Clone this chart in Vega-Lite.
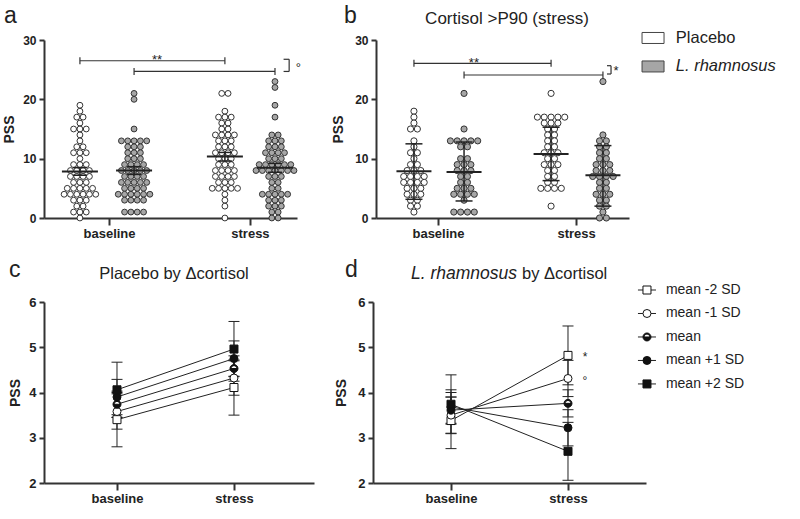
{
"$schema":"https://vega.github.io/schema/vega-lite/v6.json",
"background":"white",
"padding":{"left":2,"top":4,"right":2,"bottom":2},
"config":{
 "font":"Liberation Sans",
 "view":{"stroke":null},
 "axis":{"grid":false,"domainColor":"#333333","domainWidth":2,"tickColor":"#333333","tickWidth":2,"tickSize":5,"labelFont":"Liberation Sans","labelFontWeight":"bold","labelFontSize":12,"labelColor":"#222222","labelPadding":3,"titleFont":"Liberation Sans","titleFontWeight":"bold","titleFontSize":14,"titleColor":"#222222","titlePadding":6},
 "axisX":{"tickSize":7,"labelFontSize":13,"labelPadding":2},
 "text":{"font":"Liberation Sans","color":"#222222"}
},
"resolve":{"scale":{"fill":"independent","shape":"independent"}},
"datasets":{
"pssA":[
{"time":"baseline","group":"Placebo","pss":19},{"time":"baseline","group":"Placebo","pss":18},{"time":"baseline","group":"Placebo","pss":17},{"time":"baseline","group":"Placebo","pss":17},{"time":"baseline","group":"Placebo","pss":16},{"time":"baseline","group":"Placebo","pss":15},{"time":"baseline","group":"Placebo","pss":15},{"time":"baseline","group":"Placebo","pss":15},{"time":"baseline","group":"Placebo","pss":14},{"time":"baseline","group":"Placebo","pss":13},
{"time":"baseline","group":"Placebo","pss":12},{"time":"baseline","group":"Placebo","pss":12},{"time":"baseline","group":"Placebo","pss":11},{"time":"baseline","group":"Placebo","pss":11},{"time":"baseline","group":"Placebo","pss":11},{"time":"baseline","group":"Placebo","pss":10},{"time":"baseline","group":"Placebo","pss":9},{"time":"baseline","group":"Placebo","pss":9},{"time":"baseline","group":"Placebo","pss":9},{"time":"baseline","group":"Placebo","pss":8},
{"time":"baseline","group":"Placebo","pss":8},{"time":"baseline","group":"Placebo","pss":8},{"time":"baseline","group":"Placebo","pss":8},{"time":"baseline","group":"Placebo","pss":7},{"time":"baseline","group":"Placebo","pss":7},{"time":"baseline","group":"Placebo","pss":7},{"time":"baseline","group":"Placebo","pss":7},{"time":"baseline","group":"Placebo","pss":6},{"time":"baseline","group":"Placebo","pss":6},{"time":"baseline","group":"Placebo","pss":6},
{"time":"baseline","group":"Placebo","pss":5},{"time":"baseline","group":"Placebo","pss":5},{"time":"baseline","group":"Placebo","pss":5},{"time":"baseline","group":"Placebo","pss":5},{"time":"baseline","group":"Placebo","pss":5},{"time":"baseline","group":"Placebo","pss":4},{"time":"baseline","group":"Placebo","pss":4},{"time":"baseline","group":"Placebo","pss":4},{"time":"baseline","group":"Placebo","pss":4},{"time":"baseline","group":"Placebo","pss":4},
{"time":"baseline","group":"Placebo","pss":4},{"time":"baseline","group":"Placebo","pss":3},{"time":"baseline","group":"Placebo","pss":3},{"time":"baseline","group":"Placebo","pss":3},{"time":"baseline","group":"Placebo","pss":2},{"time":"baseline","group":"Placebo","pss":2},{"time":"baseline","group":"Placebo","pss":1},{"time":"baseline","group":"Placebo","pss":1},{"time":"baseline","group":"Placebo","pss":1},{"time":"baseline","group":"Placebo","pss":0},
{"time":"baseline","group":"L. rhamnosus","pss":21},{"time":"baseline","group":"L. rhamnosus","pss":20},{"time":"baseline","group":"L. rhamnosus","pss":15},{"time":"baseline","group":"L. rhamnosus","pss":13},{"time":"baseline","group":"L. rhamnosus","pss":13},{"time":"baseline","group":"L. rhamnosus","pss":13},{"time":"baseline","group":"L. rhamnosus","pss":13},{"time":"baseline","group":"L. rhamnosus","pss":13},{"time":"baseline","group":"L. rhamnosus","pss":12},{"time":"baseline","group":"L. rhamnosus","pss":12},
{"time":"baseline","group":"L. rhamnosus","pss":12},{"time":"baseline","group":"L. rhamnosus","pss":11},{"time":"baseline","group":"L. rhamnosus","pss":11},{"time":"baseline","group":"L. rhamnosus","pss":11},{"time":"baseline","group":"L. rhamnosus","pss":10},{"time":"baseline","group":"L. rhamnosus","pss":10},{"time":"baseline","group":"L. rhamnosus","pss":10},{"time":"baseline","group":"L. rhamnosus","pss":9},{"time":"baseline","group":"L. rhamnosus","pss":9},{"time":"baseline","group":"L. rhamnosus","pss":9},
{"time":"baseline","group":"L. rhamnosus","pss":9},{"time":"baseline","group":"L. rhamnosus","pss":8},{"time":"baseline","group":"L. rhamnosus","pss":8},{"time":"baseline","group":"L. rhamnosus","pss":8},{"time":"baseline","group":"L. rhamnosus","pss":8},{"time":"baseline","group":"L. rhamnosus","pss":8},{"time":"baseline","group":"L. rhamnosus","pss":7},{"time":"baseline","group":"L. rhamnosus","pss":7},{"time":"baseline","group":"L. rhamnosus","pss":7},{"time":"baseline","group":"L. rhamnosus","pss":7},
{"time":"baseline","group":"L. rhamnosus","pss":6},{"time":"baseline","group":"L. rhamnosus","pss":6},{"time":"baseline","group":"L. rhamnosus","pss":6},{"time":"baseline","group":"L. rhamnosus","pss":6},{"time":"baseline","group":"L. rhamnosus","pss":6},{"time":"baseline","group":"L. rhamnosus","pss":5},{"time":"baseline","group":"L. rhamnosus","pss":5},{"time":"baseline","group":"L. rhamnosus","pss":5},{"time":"baseline","group":"L. rhamnosus","pss":5},{"time":"baseline","group":"L. rhamnosus","pss":4},
{"time":"baseline","group":"L. rhamnosus","pss":4},{"time":"baseline","group":"L. rhamnosus","pss":4},{"time":"baseline","group":"L. rhamnosus","pss":4},{"time":"baseline","group":"L. rhamnosus","pss":4},{"time":"baseline","group":"L. rhamnosus","pss":4},{"time":"baseline","group":"L. rhamnosus","pss":3},{"time":"baseline","group":"L. rhamnosus","pss":3},{"time":"baseline","group":"L. rhamnosus","pss":3},{"time":"baseline","group":"L. rhamnosus","pss":3},{"time":"baseline","group":"L. rhamnosus","pss":1},
{"time":"baseline","group":"L. rhamnosus","pss":1},{"time":"baseline","group":"L. rhamnosus","pss":1},{"time":"baseline","group":"L. rhamnosus","pss":1},
{"time":"stress","group":"Placebo","pss":21},{"time":"stress","group":"Placebo","pss":21},{"time":"stress","group":"Placebo","pss":18},{"time":"stress","group":"Placebo","pss":17},{"time":"stress","group":"Placebo","pss":17},{"time":"stress","group":"Placebo","pss":17},{"time":"stress","group":"Placebo","pss":16},{"time":"stress","group":"Placebo","pss":16},{"time":"stress","group":"Placebo","pss":15},{"time":"stress","group":"Placebo","pss":15},
{"time":"stress","group":"Placebo","pss":14},{"time":"stress","group":"Placebo","pss":14},{"time":"stress","group":"Placebo","pss":14},{"time":"stress","group":"Placebo","pss":14},{"time":"stress","group":"Placebo","pss":13},{"time":"stress","group":"Placebo","pss":13},{"time":"stress","group":"Placebo","pss":13},{"time":"stress","group":"Placebo","pss":12},{"time":"stress","group":"Placebo","pss":12},{"time":"stress","group":"Placebo","pss":12},
{"time":"stress","group":"Placebo","pss":11},{"time":"stress","group":"Placebo","pss":11},{"time":"stress","group":"Placebo","pss":11},{"time":"stress","group":"Placebo","pss":11},{"time":"stress","group":"Placebo","pss":10},{"time":"stress","group":"Placebo","pss":10},{"time":"stress","group":"Placebo","pss":10},{"time":"stress","group":"Placebo","pss":9},{"time":"stress","group":"Placebo","pss":9},{"time":"stress","group":"Placebo","pss":9},
{"time":"stress","group":"Placebo","pss":8},{"time":"stress","group":"Placebo","pss":8},{"time":"stress","group":"Placebo","pss":8},{"time":"stress","group":"Placebo","pss":8},{"time":"stress","group":"Placebo","pss":7},{"time":"stress","group":"Placebo","pss":7},{"time":"stress","group":"Placebo","pss":7},{"time":"stress","group":"Placebo","pss":7},{"time":"stress","group":"Placebo","pss":6},{"time":"stress","group":"Placebo","pss":6},
{"time":"stress","group":"Placebo","pss":6},{"time":"stress","group":"Placebo","pss":5},{"time":"stress","group":"Placebo","pss":5},{"time":"stress","group":"Placebo","pss":5},{"time":"stress","group":"Placebo","pss":5},{"time":"stress","group":"Placebo","pss":5},{"time":"stress","group":"Placebo","pss":4},{"time":"stress","group":"Placebo","pss":3},{"time":"stress","group":"Placebo","pss":2},{"time":"stress","group":"Placebo","pss":0},
{"time":"stress","group":"L. rhamnosus","pss":23},{"time":"stress","group":"L. rhamnosus","pss":22},{"time":"stress","group":"L. rhamnosus","pss":19},{"time":"stress","group":"L. rhamnosus","pss":17},{"time":"stress","group":"L. rhamnosus","pss":14},{"time":"stress","group":"L. rhamnosus","pss":14},{"time":"stress","group":"L. rhamnosus","pss":13},{"time":"stress","group":"L. rhamnosus","pss":13},{"time":"stress","group":"L. rhamnosus","pss":13},{"time":"stress","group":"L. rhamnosus","pss":12},
{"time":"stress","group":"L. rhamnosus","pss":12},{"time":"stress","group":"L. rhamnosus","pss":12},{"time":"stress","group":"L. rhamnosus","pss":11},{"time":"stress","group":"L. rhamnosus","pss":11},{"time":"stress","group":"L. rhamnosus","pss":11},{"time":"stress","group":"L. rhamnosus","pss":11},{"time":"stress","group":"L. rhamnosus","pss":10},{"time":"stress","group":"L. rhamnosus","pss":10},{"time":"stress","group":"L. rhamnosus","pss":10},{"time":"stress","group":"L. rhamnosus","pss":9},
{"time":"stress","group":"L. rhamnosus","pss":9},{"time":"stress","group":"L. rhamnosus","pss":9},{"time":"stress","group":"L. rhamnosus","pss":9},{"time":"stress","group":"L. rhamnosus","pss":9},{"time":"stress","group":"L. rhamnosus","pss":9},{"time":"stress","group":"L. rhamnosus","pss":8},{"time":"stress","group":"L. rhamnosus","pss":8},{"time":"stress","group":"L. rhamnosus","pss":8},{"time":"stress","group":"L. rhamnosus","pss":8},{"time":"stress","group":"L. rhamnosus","pss":8},
{"time":"stress","group":"L. rhamnosus","pss":8},{"time":"stress","group":"L. rhamnosus","pss":8},{"time":"stress","group":"L. rhamnosus","pss":7},{"time":"stress","group":"L. rhamnosus","pss":7},{"time":"stress","group":"L. rhamnosus","pss":7},{"time":"stress","group":"L. rhamnosus","pss":6},{"time":"stress","group":"L. rhamnosus","pss":6},{"time":"stress","group":"L. rhamnosus","pss":5},{"time":"stress","group":"L. rhamnosus","pss":5},{"time":"stress","group":"L. rhamnosus","pss":4},
{"time":"stress","group":"L. rhamnosus","pss":4},{"time":"stress","group":"L. rhamnosus","pss":4},{"time":"stress","group":"L. rhamnosus","pss":4},{"time":"stress","group":"L. rhamnosus","pss":4},{"time":"stress","group":"L. rhamnosus","pss":3},{"time":"stress","group":"L. rhamnosus","pss":3},{"time":"stress","group":"L. rhamnosus","pss":3},{"time":"stress","group":"L. rhamnosus","pss":2},{"time":"stress","group":"L. rhamnosus","pss":2},{"time":"stress","group":"L. rhamnosus","pss":2},
{"time":"stress","group":"L. rhamnosus","pss":1},{"time":"stress","group":"L. rhamnosus","pss":1},{"time":"stress","group":"L. rhamnosus","pss":0},{"time":"stress","group":"L. rhamnosus","pss":0}
],
"pssB":[
{"time":"baseline","group":"Placebo","pss":18},{"time":"baseline","group":"Placebo","pss":17},{"time":"baseline","group":"Placebo","pss":16},{"time":"baseline","group":"Placebo","pss":15},{"time":"baseline","group":"Placebo","pss":15},{"time":"baseline","group":"Placebo","pss":13},{"time":"baseline","group":"Placebo","pss":12},{"time":"baseline","group":"Placebo","pss":11},{"time":"baseline","group":"Placebo","pss":11},{"time":"baseline","group":"Placebo","pss":10},
{"time":"baseline","group":"Placebo","pss":9},{"time":"baseline","group":"Placebo","pss":9},{"time":"baseline","group":"Placebo","pss":8},{"time":"baseline","group":"Placebo","pss":8},{"time":"baseline","group":"Placebo","pss":8},{"time":"baseline","group":"Placebo","pss":7},{"time":"baseline","group":"Placebo","pss":7},{"time":"baseline","group":"Placebo","pss":7},{"time":"baseline","group":"Placebo","pss":7},{"time":"baseline","group":"Placebo","pss":6},
{"time":"baseline","group":"Placebo","pss":6},{"time":"baseline","group":"Placebo","pss":6},{"time":"baseline","group":"Placebo","pss":6},{"time":"baseline","group":"Placebo","pss":5},{"time":"baseline","group":"Placebo","pss":5},{"time":"baseline","group":"Placebo","pss":5},{"time":"baseline","group":"Placebo","pss":4},{"time":"baseline","group":"Placebo","pss":4},{"time":"baseline","group":"Placebo","pss":4},{"time":"baseline","group":"Placebo","pss":3},
{"time":"baseline","group":"Placebo","pss":3},{"time":"baseline","group":"Placebo","pss":2},{"time":"baseline","group":"Placebo","pss":2},{"time":"baseline","group":"Placebo","pss":1},
{"time":"baseline","group":"L. rhamnosus","pss":21},{"time":"baseline","group":"L. rhamnosus","pss":15},{"time":"baseline","group":"L. rhamnosus","pss":13},{"time":"baseline","group":"L. rhamnosus","pss":13},{"time":"baseline","group":"L. rhamnosus","pss":13},{"time":"baseline","group":"L. rhamnosus","pss":13},{"time":"baseline","group":"L. rhamnosus","pss":13},{"time":"baseline","group":"L. rhamnosus","pss":12},{"time":"baseline","group":"L. rhamnosus","pss":12},{"time":"baseline","group":"L. rhamnosus","pss":10},
{"time":"baseline","group":"L. rhamnosus","pss":10},{"time":"baseline","group":"L. rhamnosus","pss":9},{"time":"baseline","group":"L. rhamnosus","pss":9},{"time":"baseline","group":"L. rhamnosus","pss":9},{"time":"baseline","group":"L. rhamnosus","pss":8},{"time":"baseline","group":"L. rhamnosus","pss":8},{"time":"baseline","group":"L. rhamnosus","pss":8},{"time":"baseline","group":"L. rhamnosus","pss":7},{"time":"baseline","group":"L. rhamnosus","pss":7},{"time":"baseline","group":"L. rhamnosus","pss":6},
{"time":"baseline","group":"L. rhamnosus","pss":6},{"time":"baseline","group":"L. rhamnosus","pss":5},{"time":"baseline","group":"L. rhamnosus","pss":5},{"time":"baseline","group":"L. rhamnosus","pss":5},{"time":"baseline","group":"L. rhamnosus","pss":4},{"time":"baseline","group":"L. rhamnosus","pss":4},{"time":"baseline","group":"L. rhamnosus","pss":4},{"time":"baseline","group":"L. rhamnosus","pss":4},{"time":"baseline","group":"L. rhamnosus","pss":3},{"time":"baseline","group":"L. rhamnosus","pss":1},
{"time":"baseline","group":"L. rhamnosus","pss":1},{"time":"baseline","group":"L. rhamnosus","pss":1},{"time":"baseline","group":"L. rhamnosus","pss":1},
{"time":"stress","group":"Placebo","pss":21},{"time":"stress","group":"Placebo","pss":17},{"time":"stress","group":"Placebo","pss":17},{"time":"stress","group":"Placebo","pss":17},{"time":"stress","group":"Placebo","pss":17},{"time":"stress","group":"Placebo","pss":17},{"time":"stress","group":"Placebo","pss":16},{"time":"stress","group":"Placebo","pss":16},{"time":"stress","group":"Placebo","pss":16},{"time":"stress","group":"Placebo","pss":15},
{"time":"stress","group":"Placebo","pss":15},{"time":"stress","group":"Placebo","pss":14},{"time":"stress","group":"Placebo","pss":14},{"time":"stress","group":"Placebo","pss":13},{"time":"stress","group":"Placebo","pss":13},{"time":"stress","group":"Placebo","pss":12},{"time":"stress","group":"Placebo","pss":12},{"time":"stress","group":"Placebo","pss":11},{"time":"stress","group":"Placebo","pss":11},{"time":"stress","group":"Placebo","pss":11},
{"time":"stress","group":"Placebo","pss":10},{"time":"stress","group":"Placebo","pss":10},{"time":"stress","group":"Placebo","pss":9},{"time":"stress","group":"Placebo","pss":9},{"time":"stress","group":"Placebo","pss":9},{"time":"stress","group":"Placebo","pss":8},{"time":"stress","group":"Placebo","pss":8},{"time":"stress","group":"Placebo","pss":7},{"time":"stress","group":"Placebo","pss":7},{"time":"stress","group":"Placebo","pss":6},
{"time":"stress","group":"Placebo","pss":6},{"time":"stress","group":"Placebo","pss":5},{"time":"stress","group":"Placebo","pss":5},{"time":"stress","group":"Placebo","pss":5},{"time":"stress","group":"Placebo","pss":5},{"time":"stress","group":"Placebo","pss":2},
{"time":"stress","group":"L. rhamnosus","pss":23},{"time":"stress","group":"L. rhamnosus","pss":14},{"time":"stress","group":"L. rhamnosus","pss":13},{"time":"stress","group":"L. rhamnosus","pss":13},{"time":"stress","group":"L. rhamnosus","pss":12},{"time":"stress","group":"L. rhamnosus","pss":12},{"time":"stress","group":"L. rhamnosus","pss":11},{"time":"stress","group":"L. rhamnosus","pss":11},{"time":"stress","group":"L. rhamnosus","pss":10},{"time":"stress","group":"L. rhamnosus","pss":10},
{"time":"stress","group":"L. rhamnosus","pss":9},{"time":"stress","group":"L. rhamnosus","pss":9},{"time":"stress","group":"L. rhamnosus","pss":9},{"time":"stress","group":"L. rhamnosus","pss":8},{"time":"stress","group":"L. rhamnosus","pss":8},{"time":"stress","group":"L. rhamnosus","pss":8},{"time":"stress","group":"L. rhamnosus","pss":7},{"time":"stress","group":"L. rhamnosus","pss":7},{"time":"stress","group":"L. rhamnosus","pss":7},{"time":"stress","group":"L. rhamnosus","pss":7},
{"time":"stress","group":"L. rhamnosus","pss":6},{"time":"stress","group":"L. rhamnosus","pss":6},{"time":"stress","group":"L. rhamnosus","pss":5},{"time":"stress","group":"L. rhamnosus","pss":5},{"time":"stress","group":"L. rhamnosus","pss":4},{"time":"stress","group":"L. rhamnosus","pss":4},{"time":"stress","group":"L. rhamnosus","pss":4},{"time":"stress","group":"L. rhamnosus","pss":3},{"time":"stress","group":"L. rhamnosus","pss":3},{"time":"stress","group":"L. rhamnosus","pss":2},
{"time":"stress","group":"L. rhamnosus","pss":2},{"time":"stress","group":"L. rhamnosus","pss":1},{"time":"stress","group":"L. rhamnosus","pss":0},{"time":"stress","group":"L. rhamnosus","pss":0}
],
"sumA":[
{"time":"baseline","group":"Placebo","mean":7.85,"lo":7.2,"hi":8.5},
{"time":"baseline","group":"L. rhamnosus","mean":8.0,"lo":7.35,"hi":8.65},
{"time":"stress","group":"Placebo","mean":10.35,"lo":9.6,"hi":11.05},
{"time":"stress","group":"L. rhamnosus","mean":8.45,"lo":7.7,"hi":9.2}
],
"sumB":[
{"time":"baseline","group":"Placebo","mean":7.86,"lo":3.15,"hi":12.5},
{"time":"baseline","group":"L. rhamnosus","mean":7.75,"lo":2.87,"hi":12.8},
{"time":"stress","group":"Placebo","mean":10.8,"lo":6.3,"hi":15.3},
{"time":"stress","group":"L. rhamnosus","mean":7.2,"lo":2.0,"hi":12.2}
],
"segA":[
{"x":1.42,"x2":7.15,"y":26.5,"y2":26.5},
{"x":3.56,"x2":9.13,"y":24.7,"y2":24.7},
{"x":9.47,"x2":9.69,"y":26.75,"y2":26.75},
{"x":9.47,"x2":9.69,"y":24.7,"y2":24.7},
{"x":9.69,"x2":9.69,"y":26.75,"y2":24.7}
],
"endsA":[{"x":1.42,"y":26.5},{"x":7.15,"y":26.5},{"x":3.56,"y":24.7},{"x":9.13,"y":24.7}],
"textA":[{"x":4.47,"y":25.9,"label":"**"},{"x":10.05,"y":24.6,"label":"°"}],
"segB":[
{"x":1.5,"x2":6.92,"y":26.07,"y2":26.07},
{"x":3.48,"x2":8.97,"y":24.1,"y2":24.1},
{"x":9.13,"x2":9.29,"y":25.67,"y2":25.67},
{"x":9.13,"x2":9.29,"y":24.27,"y2":24.27},
{"x":9.29,"x2":9.29,"y":25.67,"y2":24.27}
],
"endsB":[{"x":1.5,"y":26.07},{"x":6.92,"y":26.07},{"x":3.48,"y":24.1},{"x":8.97,"y":24.1}],
"textB":[{"x":3.87,"y":25.48,"label":"**"},{"x":9.49,"y":24.17,"label":"*"}],
"legendTop":[{"group":"Placebo"},{"group":"L. rhamnosus"}],
"cortC":[
{"series":"mean -2 SD","time":"baseline","pss":3.40,"lo":2.80,"hi":4.00},
{"series":"mean -2 SD","time":"stress","pss":4.11,"lo":3.50,"hi":4.72},
{"series":"mean -1 SD","time":"baseline","pss":3.58,"lo":3.19,"hi":3.97},
{"series":"mean -1 SD","time":"stress","pss":4.32,"lo":3.94,"hi":4.70},
{"series":"mean","time":"baseline","pss":3.74,"lo":3.45,"hi":4.03},
{"series":"mean","time":"stress","pss":4.53,"lo":4.25,"hi":4.81},
{"series":"mean +1 SD","time":"baseline","pss":3.90,"lo":3.51,"hi":4.29},
{"series":"mean +1 SD","time":"stress","pss":4.75,"lo":4.36,"hi":5.14},
{"series":"mean +2 SD","time":"baseline","pss":4.06,"lo":3.45,"hi":4.67},
{"series":"mean +2 SD","time":"stress","pss":4.96,"lo":4.35,"hi":5.57}
],
"cortD":[
{"series":"mean -2 SD","time":"baseline","pss":3.38,"lo":2.76,"hi":4.00},
{"series":"mean -2 SD","time":"stress","pss":4.82,"lo":4.17,"hi":5.47},
{"series":"mean -1 SD","time":"baseline","pss":3.50,"lo":3.10,"hi":3.90},
{"series":"mean -1 SD","time":"stress","pss":4.31,"lo":3.91,"hi":4.71},
{"series":"mean","time":"baseline","pss":3.61,"lo":3.32,"hi":3.90},
{"series":"mean","time":"stress","pss":3.76,"lo":3.46,"hi":4.06},
{"series":"mean +1 SD","time":"baseline","pss":3.68,"lo":3.30,"hi":4.06},
{"series":"mean +1 SD","time":"stress","pss":3.22,"lo":2.82,"hi":3.62},
{"series":"mean +2 SD","time":"baseline","pss":3.74,"lo":3.09,"hi":4.39},
{"series":"mean +2 SD","time":"stress","pss":2.70,"lo":2.06,"hi":3.34}
],
"legendD":[{"series":"mean -2 SD"},{"series":"mean -1 SD"},{"series":"mean"},{"series":"mean +1 SD"},{"series":"mean +2 SD"}],
"textD":[{"x":1.145,"y":4.705,"label":"*"},{"x":1.145,"y":4.172,"label":"°"}]
},
"spacing":19,
"align":"none",
"vconcat":[
{"spacing":30,"align":"none","hconcat":[
 {"width":253,"height":178,"layer":[
  {"data":{"name":"pssA"},
   "transform":[
    {"window":[{"op":"row_number","as":"idx"}],"groupby":["time","group","pss"]},
    {"joinaggregate":[{"op":"count","as":"n"}],"groupby":["time","group","pss"]},
    {"calculate":"(datum.time=='baseline' ? (datum.group=='Placebo' ? 1.42 : 3.56) : (datum.group=='Placebo' ? 7.15 : 9.13)) + (datum.idx - (datum.n + 1) / 2) * 0.25","as":"xpos"}],
   "mark":{"type":"circle","size":34,"stroke":"#333333","strokeWidth":1,"opacity":1},
   "encoding":{
    "x":{"field":"xpos","type":"quantitative","scale":{"domain":[0,10],"nice":false,"zero":false},"axis":{"values":[2.57,8.14],"labelExpr":"datum.value < 5 ? 'baseline' : 'stress'","title":null}},
    "y":{"field":"pss","type":"quantitative","scale":{"domain":[0,30],"nice":false},"axis":{"values":[0,10,20,30],"title":"PSS"}},
    "fill":{"field":"group","type":"nominal","scale":{"domain":["Placebo","L. rhamnosus"],"range":["#ffffff","#a6a6a6"]},"legend":null}}},
  {"data":{"name":"sumA"},
   "transform":[{"calculate":"datum.time=='baseline' ? (datum.group=='Placebo' ? 1.42 : 3.56) : (datum.group=='Placebo' ? 7.15 : 9.13)","as":"cx"}],
   "layer":[
    {"mark":{"type":"rule","color":"#222222","strokeWidth":1.5},"encoding":{"x":{"field":"cx","type":"quantitative"},"y":{"field":"lo","type":"quantitative"},"y2":{"field":"hi"}}},
    {"mark":{"type":"tick","orient":"horizontal","size":36,"thickness":2,"color":"#222222","opacity":1},"encoding":{"x":{"field":"cx","type":"quantitative"},"y":{"field":"mean","type":"quantitative"}}},
    {"mark":{"type":"tick","orient":"horizontal","size":14,"thickness":1.5,"color":"#222222","opacity":1},"encoding":{"x":{"field":"cx","type":"quantitative"},"y":{"field":"lo","type":"quantitative"}}},
    {"mark":{"type":"tick","orient":"horizontal","size":14,"thickness":1.5,"color":"#222222","opacity":1},"encoding":{"x":{"field":"cx","type":"quantitative"},"y":{"field":"hi","type":"quantitative"}}}
   ]},
  {"data":{"name":"segA"},"mark":{"type":"rule","color":"#333333","strokeWidth":1.2},"encoding":{"x":{"field":"x","type":"quantitative"},"x2":{"field":"x2"},"y":{"field":"y","type":"quantitative"},"y2":{"field":"y2"}}},
  {"data":{"name":"endsA"},"mark":{"type":"tick","orient":"vertical","size":7,"thickness":1.2,"color":"#333333","opacity":1},"encoding":{"x":{"field":"x","type":"quantitative"},"y":{"field":"y","type":"quantitative"}}},
  {"data":{"name":"textA"},"mark":{"type":"text","fontSize":13,"align":"center","baseline":"alphabetic"},"encoding":{"x":{"field":"x","type":"quantitative"},"y":{"field":"y","type":"quantitative"},"text":{"field":"label"}}},
  {"data":{"values":[{"label":"a"}]},"mark":{"type":"text","fontSize":23,"align":"left","baseline":"alphabetic"},"encoding":{"x":{"datum":-1.58},"y":{"datum":32.87},"text":{"field":"label"}}}
 ]},
 {"width":253,"height":178,"layer":[
  {"data":{"name":"pssB"},
   "transform":[
    {"window":[{"op":"row_number","as":"idx"}],"groupby":["time","group","pss"]},
    {"joinaggregate":[{"op":"count","as":"n"}],"groupby":["time","group","pss"]},
    {"calculate":"(datum.time=='baseline' ? (datum.group=='Placebo' ? 1.50 : 3.48) : (datum.group=='Placebo' ? 6.92 : 8.97)) + (datum.idx - (datum.n + 1) / 2) * 0.27","as":"xpos"}],
   "mark":{"type":"circle","size":38,"stroke":"#333333","strokeWidth":1,"opacity":1},
   "encoding":{
    "x":{"field":"xpos","type":"quantitative","scale":{"domain":[0,10],"nice":false,"zero":false},"axis":{"values":[2.45,7.91],"labelExpr":"datum.value < 5 ? 'baseline' : 'stress'","title":null}},
    "y":{"field":"pss","type":"quantitative","scale":{"domain":[0,30],"nice":false},"axis":{"values":[0,10,20,30],"title":"PSS","titlePadding":9}},
    "fill":{"field":"group","type":"nominal","scale":{"domain":["Placebo","L. rhamnosus"],"range":["#ffffff","#a6a6a6"]},"legend":null}}},
  {"data":{"name":"sumB"},
   "transform":[{"calculate":"datum.time=='baseline' ? (datum.group=='Placebo' ? 1.50 : 3.48) : (datum.group=='Placebo' ? 6.92 : 8.97)","as":"cx"}],
   "layer":[
    {"mark":{"type":"rule","color":"#222222","strokeWidth":1.5},"encoding":{"x":{"field":"cx","type":"quantitative"},"y":{"field":"lo","type":"quantitative"},"y2":{"field":"hi"}}},
    {"mark":{"type":"tick","orient":"horizontal","size":35,"thickness":2,"color":"#222222","opacity":1},"encoding":{"x":{"field":"cx","type":"quantitative"},"y":{"field":"mean","type":"quantitative"}}},
    {"mark":{"type":"tick","orient":"horizontal","size":17,"thickness":1.5,"color":"#222222","opacity":1},"encoding":{"x":{"field":"cx","type":"quantitative"},"y":{"field":"lo","type":"quantitative"}}},
    {"mark":{"type":"tick","orient":"horizontal","size":17,"thickness":1.5,"color":"#222222","opacity":1},"encoding":{"x":{"field":"cx","type":"quantitative"},"y":{"field":"hi","type":"quantitative"}}}
   ]},
  {"data":{"name":"segB"},"mark":{"type":"rule","color":"#333333","strokeWidth":1.2},"encoding":{"x":{"field":"x","type":"quantitative"},"x2":{"field":"x2"},"y":{"field":"y","type":"quantitative"},"y2":{"field":"y2"}}},
  {"data":{"name":"endsB"},"mark":{"type":"tick","orient":"vertical","size":7,"thickness":1.2,"color":"#333333","opacity":1},"encoding":{"x":{"field":"x","type":"quantitative"},"y":{"field":"y","type":"quantitative"}}},
  {"data":{"name":"textB"},"mark":{"type":"text","fontSize":13,"align":"center","baseline":"alphabetic"},"encoding":{"x":{"field":"x","type":"quantitative"},"y":{"field":"y","type":"quantitative"},"text":{"field":"label"}}},
  {"data":{"values":[{"label":"b"}]},"mark":{"type":"text","fontSize":23,"align":"left","baseline":"alphabetic"},"encoding":{"x":{"datum":-1.26},"y":{"datum":32.87},"text":{"field":"label"}}},
  {"data":{"values":[{"label":"Cortisol >P90 (stress)"}]},"mark":{"type":"text","fontSize":17,"align":"center","baseline":"alphabetic"},"encoding":{"x":{"datum":5.18},"y":{"datum":32.7},"text":{"field":"label"}}},
  {"data":{"name":"legendTop"},
   "transform":[{"window":[{"op":"row_number","as":"idx"}]},{"calculate":"30.34 - (datum.idx - 1) * 4.8","as":"ly"}],
   "layer":[
    {"mark":{"type":"point","shape":"M-1,-0.5H1V0.5H-1Z","filled":true,"size":484,"stroke":"#444444","strokeWidth":1,"opacity":1},"encoding":{"x":{"datum":10.95},"y":{"field":"ly","type":"quantitative"},"fill":{"field":"group","type":"nominal","legend":null}}},
    {"mark":{"type":"text","fontSize":16.5,"align":"left","baseline":"middle","fontStyle":{"expr":"datum.group == 'L. rhamnosus' ? 'italic' : 'normal'"}},"encoding":{"x":{"datum":11.85},"y":{"field":"ly","type":"quantitative"},"text":{"field":"group"}}}
   ]}
 ]}
]},
{"spacing":20,"align":"none","hconcat":[
 {"width":270,"height":181,"layer":[
  {"data":{"name":"cortC"},"transform":[{"calculate":"datum.time=='baseline' ? 0 : 1","as":"t"}],
   "layer":[
    {"mark":{"type":"line","color":"#222222","strokeWidth":1},
     "encoding":{
      "x":{"field":"t","type":"quantitative","scale":{"domain":[-0.624,1.684],"nice":false,"zero":false},"axis":{"values":[0,1],"labelExpr":"datum.value == 0 ? 'baseline' : 'stress'","title":null}},
      "y":{"field":"pss","type":"quantitative","scale":{"domain":[2,6],"nice":false,"zero":false},"axis":{"values":[2,3,4,5,6],"title":"PSS","labelFontSize":13,"titlePadding":6}},
      "detail":{"field":"series","type":"nominal"}}},
    {"mark":{"type":"rule","color":"#222222","strokeWidth":1},"encoding":{"x":{"field":"t","type":"quantitative"},"y":{"field":"lo","type":"quantitative"},"y2":{"field":"hi"}}},
    {"mark":{"type":"tick","orient":"horizontal","size":11,"thickness":1,"color":"#222222","opacity":1},"encoding":{"x":{"field":"t","type":"quantitative"},"y":{"field":"lo","type":"quantitative"}}},
    {"mark":{"type":"tick","orient":"horizontal","size":11,"thickness":1,"color":"#222222","opacity":1},"encoding":{"x":{"field":"t","type":"quantitative"},"y":{"field":"hi","type":"quantitative"}}},
    {"mark":{"type":"point","shape":"circle","filled":true,"fill":"#ffffff","size":64,"strokeWidth":0,"opacity":1},"encoding":{"x":{"field":"t","type":"quantitative"},"y":{"field":"pss","type":"quantitative"}}},
    {"mark":{"type":"point","filled":true,"size":64,"stroke":"#111111","strokeWidth":1,"opacity":1},
     "encoding":{"x":{"field":"t","type":"quantitative"},"y":{"field":"pss","type":"quantitative"},
      "shape":{"field":"series","type":"nominal","scale":{"domain":["mean -2 SD","mean -1 SD","mean","mean +1 SD","mean +2 SD"],"range":["square","circle","M-1,0A1,1,0,1,1,1,0A1,1,0,1,1,-1,0ZM-0.72,0A0.72,0.72,0,1,0,0.72,0A0.72,0.72,0,1,0,-0.72,0ZM-0.72,0L0.72,0A0.72,0.72,0,0,1,-0.72,0Z","circle","square"]},"legend":null},
      "fill":{"field":"series","type":"nominal","scale":{"domain":["mean -2 SD","mean -1 SD","mean","mean +1 SD","mean +2 SD"],"range":["#ffffff","#ffffff","#111111","#111111","#111111"]},"legend":null}}}
   ]},
  {"data":{"values":[{"label":"c"}]},"mark":{"type":"text","fontSize":23,"align":"left","baseline":"alphabetic"},"encoding":{"x":{"datum":-0.923},"y":{"datum":6.552},"text":{"field":"label"}}},
  {"data":{"values":[{"label":"Placebo by Δcortisol"}]},"mark":{"type":"text","fontSize":16.5,"align":"center","baseline":"alphabetic"},"encoding":{"x":{"datum":0.487},"y":{"datum":6.508},"text":{"field":"label"}}}
 ]},
 {"width":273,"height":181,"layer":[
  {"data":{"name":"cortD"},"transform":[{"calculate":"datum.time=='baseline' ? 0 : 1","as":"t"}],
   "layer":[
    {"mark":{"type":"line","color":"#222222","strokeWidth":1},
     "encoding":{
      "x":{"field":"t","type":"quantitative","scale":{"domain":[-0.6667,1.6667],"nice":false,"zero":false},"axis":{"values":[0,1],"labelExpr":"datum.value == 0 ? 'baseline' : 'stress'","title":null}},
      "y":{"field":"pss","type":"quantitative","scale":{"domain":[2,6],"nice":false,"zero":false},"axis":{"values":[2,3,4,5,6],"title":"PSS","labelFontSize":13,"titlePadding":9}},
      "detail":{"field":"series","type":"nominal"}}},
    {"mark":{"type":"rule","color":"#222222","strokeWidth":1},"encoding":{"x":{"field":"t","type":"quantitative"},"y":{"field":"lo","type":"quantitative"},"y2":{"field":"hi"}}},
    {"mark":{"type":"tick","orient":"horizontal","size":11,"thickness":1,"color":"#222222","opacity":1},"encoding":{"x":{"field":"t","type":"quantitative"},"y":{"field":"lo","type":"quantitative"}}},
    {"mark":{"type":"tick","orient":"horizontal","size":11,"thickness":1,"color":"#222222","opacity":1},"encoding":{"x":{"field":"t","type":"quantitative"},"y":{"field":"hi","type":"quantitative"}}},
    {"mark":{"type":"point","shape":"circle","filled":true,"fill":"#ffffff","size":64,"strokeWidth":0,"opacity":1},"encoding":{"x":{"field":"t","type":"quantitative"},"y":{"field":"pss","type":"quantitative"}}},
    {"mark":{"type":"point","filled":true,"size":64,"stroke":"#111111","strokeWidth":1,"opacity":1},
     "encoding":{"x":{"field":"t","type":"quantitative"},"y":{"field":"pss","type":"quantitative"},
      "shape":{"field":"series","type":"nominal","scale":{"domain":["mean -2 SD","mean -1 SD","mean","mean +1 SD","mean +2 SD"],"range":["square","circle","M-1,0A1,1,0,1,1,1,0A1,1,0,1,1,-1,0ZM-0.72,0A0.72,0.72,0,1,0,0.72,0A0.72,0.72,0,1,0,-0.72,0ZM-0.72,0L0.72,0A0.72,0.72,0,0,1,-0.72,0Z","circle","square"]},"legend":null},
      "fill":{"field":"series","type":"nominal","scale":{"domain":["mean -2 SD","mean -1 SD","mean","mean +1 SD","mean +2 SD"],"range":["#ffffff","#ffffff","#111111","#111111","#111111"]},"legend":null}}}
   ]},
  {"data":{"name":"legendD"},
   "transform":[{"window":[{"op":"row_number","as":"idx"}]},{"calculate":"6.265 - (datum.idx - 1) * 0.519","as":"ly"}],
   "layer":[
    {"mark":{"type":"rule","color":"#222222","strokeWidth":1},"encoding":{"x":{"datum":1.598},"x2":{"datum":1.752},"y":{"field":"ly","type":"quantitative"}}},
    {"mark":{"type":"point","shape":"circle","filled":true,"fill":"#ffffff","size":64,"strokeWidth":0,"opacity":1},"encoding":{"x":{"datum":1.675},"y":{"field":"ly","type":"quantitative"}}},
    {"mark":{"type":"point","filled":true,"size":64,"stroke":"#111111","strokeWidth":1,"opacity":1},"encoding":{"x":{"datum":1.675},"y":{"field":"ly","type":"quantitative"},"shape":{"field":"series","type":"nominal","legend":null},"fill":{"field":"series","type":"nominal","legend":null}}},
    {"mark":{"type":"text","fontSize":14,"align":"left","baseline":"middle"},"encoding":{"x":{"datum":1.837},"y":{"field":"ly","type":"quantitative"},"text":{"field":"series"}}}
   ]},
  {"data":{"name":"textD"},"mark":{"type":"text","fontSize":12,"align":"center","baseline":"alphabetic"},"encoding":{"x":{"field":"x","type":"quantitative"},"y":{"field":"y","type":"quantitative"},"text":{"field":"label"}}},
  {"data":{"values":[{"label":"d"}]},"mark":{"type":"text","fontSize":23,"align":"left","baseline":"alphabetic"},"encoding":{"x":{"datum":-0.906},"y":{"datum":6.552},"text":{"field":"label"}}},
  {"data":{"values":[{"label":"L. rhamnosus"}]},"mark":{"type":"text","fontSize":17.5,"fontStyle":"italic","align":"right","baseline":"alphabetic"},"encoding":{"x":{"datum":0.564},"y":{"datum":6.508},"text":{"field":"label"}}},
  {"data":{"values":[{"label":"by Δcortisol"}]},"mark":{"type":"text","fontSize":16.5,"align":"left","baseline":"alphabetic","dx":5},"encoding":{"x":{"datum":0.564},"y":{"datum":6.508},"text":{"field":"label"}}}
 ]}
]}
]
}
